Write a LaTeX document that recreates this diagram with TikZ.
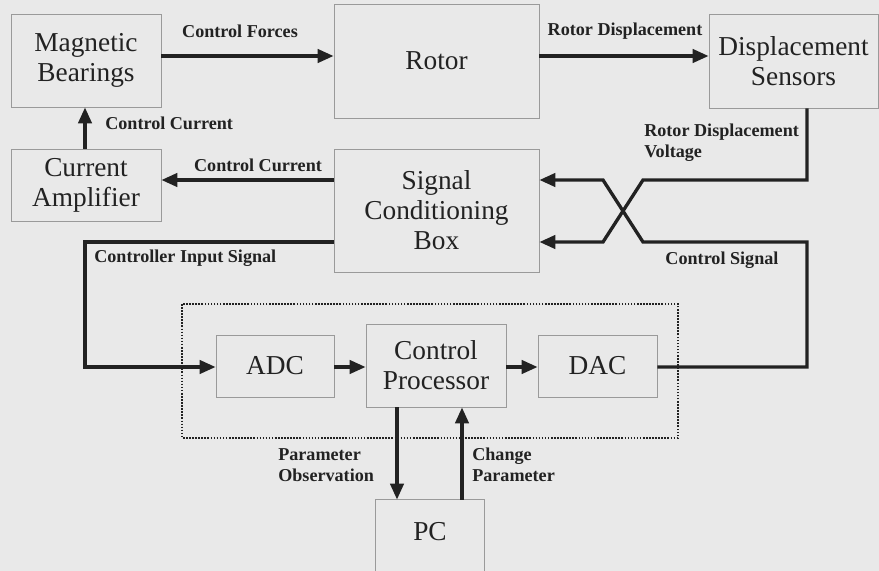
\documentclass[tikz,border=0pt]{standalone}
\usepackage{fontspec}
\setmainfont{Liberation Serif}
\usetikzlibrary{arrows.meta}
\definecolor{bg}{HTML}{E9E9E9}
\definecolor{boxc}{HTML}{9A9A9A}
\definecolor{ink}{HTML}{222222}
\begin{document}
\begin{tikzpicture}[x=0.75pt,y=-0.75pt,
  blk/.style={draw=boxc,line width=0.6pt,inner sep=0pt,align=center,text=ink,
    font=\fontsize{20.5}{22.5}\selectfont},
  lbl/.style={inner sep=0pt,text=ink,font=\fontsize{13.6}{15.8}\selectfont\bfseries},
  wire/.style={draw=ink,line width=2.5pt},
  arr/.style={wire,-{Triangle[length=12pt,width=10pt]}}]
\clip (0,0) rectangle (879,571);
\fill[bg] (0,0) rectangle (879,571);
% dotted enclosure
\draw[ink,line width=1.6pt,dash pattern=on 1.2pt off 1.1pt] (182,304) rectangle (678,438);
% blocks
\node[blk,minimum width=112.5pt,minimum height=69.75pt] (MB) at (86,60.5) {Magnetic\\Bearings};
\node[blk,minimum width=153.75pt,minimum height=85.5pt] (RO) at (436.5,61) {Rotor};
\node[blk,minimum width=126.75pt,minimum height=70.5pt] (DS) at (793.5,61) {Displacement\\Sensors};
\node[blk,minimum width=112.5pt,minimum height=54pt] (CA) at (86,185) {Current\\Amplifier};
\node[blk,minimum width=153.75pt,minimum height=92.25pt] (SC) at (436.5,210.5) {Signal\\Conditioning\\Box};
\node[blk,minimum width=88.5pt,minimum height=46.5pt] (ADC) at (275,366) {ADC};
\node[blk,minimum width=105pt,minimum height=62.25pt] (CP) at (436,365.5) {Control\\Processor};
\node[blk,minimum width=89.25pt,minimum height=46.5pt] (DAC) at (597.5,366) {DAC};
\node[blk,draw=none,minimum width=81pt,minimum height=48pt] (PC) at (430,532) {PC};
\draw[boxc,line width=0.6pt] (PC.west |- 0,580) -- (PC.north west) -- (PC.north east) -- (PC.east |- 0,580);
% coordinates for routing
\coordinate (xr) at (807,0);
\coordinate (xl) at (85,0);
% connectors
\draw[arr] (MB.east |- 0,56) -- (RO.west |- 0,56);
\draw[arr] (RO.east |- 0,56) -- (DS.west |- 0,56);
\draw[arr] (CA.north -| xl) -- (MB.south -| xl);
\draw[arr] (SC.west |- 0,180) -- (CA.east |- 0,180);
\draw[arr] (SC.west |- 0,242) -| (xl |- 0,367) -- (ADC.west |- 0,367);
\draw[arr] (ADC.east |- 0,367) -- (CP.west |- 0,367);
\draw[arr] (CP.east |- 0,367) -- (DAC.west |- 0,367);
\draw[arr] (DS.south -| xr) -- (xr |- 0,180) -- (643,180) -- (603,242) -- (SC.east |- 0,242);
\draw[arr] (DAC.east |- 0,367) -- (xr |- 0,367) -- (xr |- 0,242) -- (643,242) -- (603,180) -- (SC.east |- 0,180);
\draw[arr] (CP.south -| 397,0) -- (PC.north -| 397,0);
\draw[arr] (PC.north -| 462,0) -- (CP.south -| 462,0);
% labels
\node[lbl] (l1) at (240,31) {Control Forces};
\node[lbl] (l2) at (625,31) {Rotor Displacement};
\node[lbl,anchor=west] (l3) at (105,123) {Control Current};
\node[lbl] (l4) at (258,165) {Control Current};
\node[lbl,anchor=west] (l5) at (94,258) {Controller Input Signal};
\node[lbl,anchor=west,align=left] (l6) at (644,143) {Rotor Displacement\\Voltage};
\node[lbl] (l7) at (722,260) {Control Signal};
\node[lbl,anchor=west,align=left] (l8) at (278,465) {Parameter\\Observation};
\node[lbl,anchor=west,align=left] (l9) at (472,465) {Change\\Parameter};
\end{tikzpicture}
\end{document}
